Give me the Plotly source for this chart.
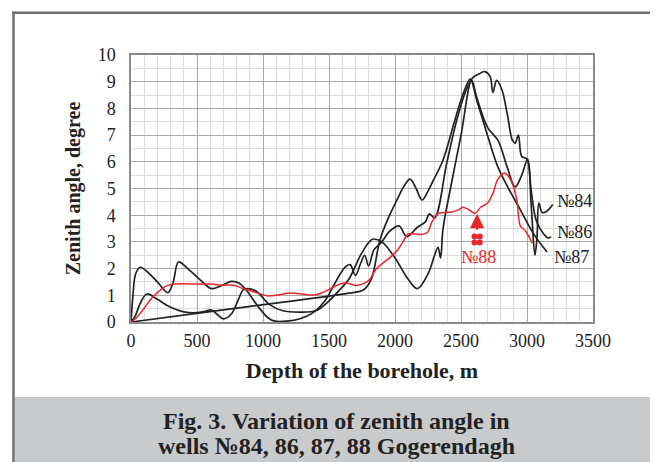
import plotly.graph_objects as go

# ---- data (depth m, zenith angle deg) ----
d84 = [0, 15, 35, 70, 130, 200, 280, 320, 360, 430, 520, 610, 680, 760, 820, 880, 960, 1040, 1090, 1180, 1280, 1380, 1470, 1550, 1620, 1660, 1700, 1740, 1770, 1800, 1840, 1900, 1960, 2030, 2090, 2170, 2230, 2260, 2300, 2394, 2470, 2540, 2590, 2640, 2680, 2720, 2742, 2770, 2810, 2850, 2890, 2910, 2935, 2960, 3000, 3030, 3060, 3076, 3090, 3115, 3150, 3195]
a84 = [0, 1.0, 1.8, 2.05, 1.85, 1.5, 1.1, 1.5, 2.25, 2.0, 1.6, 1.25, 1.35, 1.52, 1.45, 1.15, 0.6, 0.15, 0.03, 0.03, 0.12, 0.35, 0.8, 1.5, 2.05, 2.15, 1.75, 2.2, 2.5, 2.1, 2.7, 3.0, 3.4, 3.6, 3.2, 3.55, 3.75, 4.05, 3.9, 6.0, 7.6, 8.7, 9.15, 9.3, 9.38, 9.2, 8.6, 9.05, 8.7, 7.8, 6.8, 6.7, 7.0, 6.2, 6.1, 4.5, 2.5, 3.2, 4.45, 4.1, 4.15, 4.4]

d86 = [0, 30, 70, 120, 200, 300, 400, 500, 560, 610, 650, 700, 760, 810, 850, 890, 950, 1050, 1150, 1280, 1400, 1480, 1580, 1650, 1750, 1830, 1900, 2000, 2100, 2170, 2250, 2300, 2326, 2345, 2364, 2420, 2500, 2580, 2620, 2700, 2780, 2850, 2910, 2960, 3005, 3030, 3070, 3121, 3159, 3182]
a86 = [0, 0.2, 0.7, 1.05, 0.85, 0.55, 0.38, 0.35, 0.4, 0.45, 0.3, 0.12, 0.3, 0.8, 1.2, 1.25, 1.15, 0.65, 0.42, 0.37, 0.42, 0.7, 1.2, 1.6, 2.6, 3.1, 3.0, 2.4, 1.6, 1.25, 1.8, 2.5, 2.8, 2.4, 3.5, 5.0, 7.0, 9.05, 8.4, 7.3, 6.8, 5.8, 5.06, 5.5, 6.1, 5.0, 3.8, 3.33, 3.15, 3.2]

d87 = [0, 800, 1650, 1760, 1820, 1886, 1950, 2015, 2070, 2114, 2160, 2205, 2250, 2290, 2364, 2450, 2520, 2570, 2620, 2700, 2780, 2860, 2950, 3050, 3152]
a87 = [0, 0.52, 1.08, 1.2, 1.6, 3.07, 3.9, 4.57, 5.1, 5.35, 5.0, 4.57, 4.9, 5.3, 6.07, 7.5, 8.6, 9.1, 8.3, 7.0, 5.8, 5.0, 4.2, 3.3, 2.62]

d88 = [0, 40, 90, 150, 200, 250, 300, 400, 500, 600, 700, 780, 850, 950, 1030, 1120, 1205, 1290, 1380, 1450, 1530, 1600, 1640, 1700, 1740, 1800, 1860, 1920, 1970, 2020, 2060, 2100, 2150, 2200, 2245, 2280, 2320, 2370, 2430, 2480, 2515, 2560, 2605, 2650, 2700, 2740, 2780, 2830, 2860, 2895, 2925, 2950, 2990, 3040]
a88 = [0, 0.15, 0.45, 0.85, 1.1, 1.3, 1.4, 1.43, 1.42, 1.42, 1.38, 1.38, 1.25, 1.1, 0.98, 1.02, 1.09, 1.05, 1.0, 1.1, 1.3, 1.45, 1.45, 1.37, 1.4, 1.55, 2.0, 2.25, 2.45, 2.7, 3.0, 3.3, 3.3, 3.28, 3.35, 3.75, 4.05, 4.1, 4.12, 4.2, 4.3, 4.2, 4.07, 4.3, 4.45, 4.8, 5.35, 5.58, 5.45, 5.1, 4.5, 3.6, 3.4, 2.95]

x_ticks = [0, 500, 1000, 1500, 2000, 2500, 3000, 3500]
y_ticks = list(range(0, 11))

well_labels = ["№84", "№86", "№87"]
label_x = [3210, 3210, 3188]
label_y = [4.55, 3.37, 2.43]
label88 = "№88"
label88_xy = (2632, 2.43)
arrow88 = (2622, 4.05, 2622, 3.4)
clover_x = [2602, 2642, 2602, 2642]
clover_y = [3.2, 3.2, 2.98, 2.98]

caption = ["Fig. 3. Variation of zenith angle in", "wells №84, 86, 87, 88 Gogerendagh"]

SERIF = "Liberation Serif, Times New Roman, serif"
BLACK = "#222222"
RED = "#e8262a"

fig = go.Figure()
for d, a in [(d84, a84), (d86, a86), (d87, a87)]:
    fig.add_trace(go.Scatter(x=d, y=a, mode="lines",
                             line=dict(color=BLACK, width=1.7, shape="spline", smoothing=1.0),
                             showlegend=False, hoverinfo="skip"))
fig.add_trace(go.Scatter(x=d88, y=a88, mode="lines",
                         line=dict(color=RED, width=1.5, shape="spline", smoothing=1.0),
                         showlegend=False, hoverinfo="skip"))
fig.add_trace(go.Scatter(x=clover_x, y=clover_y, mode="markers",
                         marker=dict(color=RED, size=6, symbol="circle"),
                         showlegend=False, hoverinfo="skip"))

for t, x, y in zip(well_labels, label_x, label_y):
    fig.add_annotation(x=x, y=y, text=t, showarrow=False, xanchor="left", yanchor="middle",
                       font=dict(family=SERIF, size=18, color=BLACK))
fig.add_annotation(x=label88_xy[0], y=label88_xy[1], text=label88, showarrow=False,
                   xanchor="center", yanchor="middle", font=dict(family=SERIF, size=18, color=RED))
fig.add_annotation(x=arrow88[0], y=arrow88[1], ax=arrow88[2], ay=arrow88[3], axref="x", ayref="y",
                   text="", showarrow=True, arrowhead=2, arrowsize=1.3, arrowwidth=2.2, arrowcolor=RED)

# page geometry (screen px; the page body adds an 8px offset)
OFF = 8
W, H = 658 - OFF, 462 - OFF
L, R, T, B = 131 - OFF, 593 - OFF, 55 - OFF, 322 - OFF
pw, ph = R - L, B - T
def px(x): return (x - OFF - L) / pw
def py(y): return (B - (y - OFF)) / ph

fig.add_shape(type="rect", xref="paper", yref="paper", x0=px(15), x1=px(670), y0=py(397), y1=py(470),
              fillcolor="#c9cacc", line=dict(width=0), layer="below")
fig.add_shape(type="line", xref="paper", yref="paper", x0=px(13.5), x1=px(13.5), y0=py(11.5), y1=py(470),
              line=dict(color="#6f6f6f", width=2.5))
fig.add_shape(type="line", xref="paper", yref="paper", x0=px(12.3), x1=px(670), y0=py(12.7), y1=py(12.7),
              line=dict(color="#6f6f6f", width=2.5))

fig.add_annotation(xref="paper", yref="paper", x=px(336), y=py(421), xanchor="center", yanchor="middle",
                   text="<b>%s</b>" % caption[0], showarrow=False,
                   font=dict(family=SERIF, size=24, color=BLACK))
fig.add_annotation(xref="paper", yref="paper", x=px(336), y=py(446), xanchor="center", yanchor="middle",
                   text="<b>%s</b>" % caption[1], showarrow=False,
                   font=dict(family=SERIF, size=24, color=BLACK))

fig.update_layout(
    width=W, height=H, margin=dict(l=L, r=W - R, t=T, b=H - B, autoexpand=False),
    paper_bgcolor="white", plot_bgcolor="white",
    font=dict(family=SERIF, color=BLACK),
    xaxis=dict(range=[0, 3500], tickvals=x_ticks, showgrid=True, gridcolor="#a8a8a8", gridwidth=1,
               minor=dict(dtick=100, showgrid=True, gridcolor="#dcdcdc", gridwidth=1),
               zeroline=False, showline=True, linecolor="#8a8a8a", linewidth=1.5, mirror=True,
               ticks="", ticklabelstandoff=2, tickfont=dict(family=SERIF, size=18, color=BLACK),
               title=dict(text="<b>Depth of the borehole, m</b>", font=dict(family=SERIF, size=22, color=BLACK), standoff=12)),
    yaxis=dict(range=[0, 10], tickvals=y_ticks, showgrid=True, gridcolor="#a8a8a8", gridwidth=1,
               minor=dict(dtick=0.5, showgrid=True, gridcolor="#dcdcdc", gridwidth=1),
               zeroline=False, showline=True, linecolor="#8a8a8a", linewidth=1.5, mirror=True,
               ticks="", ticklabelstandoff=10, tickfont=dict(family=SERIF, size=18, color=BLACK),
               title=dict(text="<b>Zenith angle, degree</b>", font=dict(family=SERIF, size=20, color=BLACK), standoff=12)),
)

fig.write_html("out.html")
